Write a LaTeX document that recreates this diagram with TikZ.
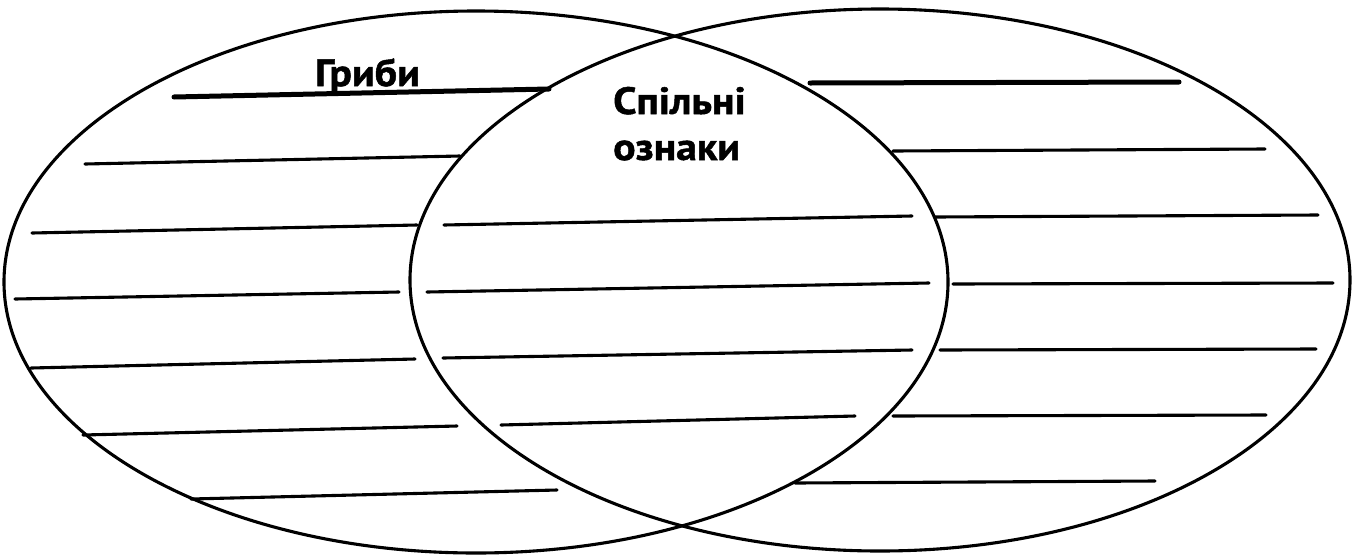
\documentclass[tikz,border=0pt]{standalone}
\usepackage{fontspec}
\setmainfont[FakeStretch=1.1,BoldFeatures={FakeBold=1.3}]{PT Sans}
\begin{document}
\begin{tikzpicture}[x=1pt,y=-1pt,
  oval/.style={draw, line width=3.1pt},
  wline/.style={line width=3.1pt, line cap=round},
  tline/.style={line width=5pt, line cap=round},
  lbl/.style={font=\bfseries\fontsize{38}{45}\selectfont, inner sep=0pt}]
\useasboundingbox (0,0) rectangle (1354,555);
% ellipses
\draw[oval] (476,282) ellipse [x radius=472, y radius=271];
\draw[oval] (880,280) ellipse [x radius=470, y radius=271];
% titles
\node[lbl, anchor=base west] (gr) at (315,86) {Гриби};
\node[lbl, anchor=base west] (sp1) at (613,114) {Спільні};
\node[lbl, anchor=base west] (sp2) at (613,160) {ознаки};
% left lines
\draw[tline] (174,97) -- (549,89);
\draw[wline] (85,164) -- (460,156);
\draw[wline] (32,233) -- (417,225);
\draw[wline] (15,299) -- (399,292);
\draw[wline] (31,368) -- (415,359);
\draw[wline] (83,435) -- (457,426);
\draw[wline] (191,499) -- (557,490);
% middle lines
\draw[wline] (444,225) -- (912,216);
\draw[wline] (427,292) -- (929,283);
\draw[wline] (443,358) -- (912,350);
\draw[wline] (501,425) -- (855,416);
% right lines
\draw[tline] (810,83) -- (1179,82);
\draw[wline] (893,151) -- (1265,149);
\draw[wline] (935,217) -- (1318,215);
\draw[wline] (953,284) -- (1333,283);
\draw[wline] (940,350) -- (1316,349);
\draw[wline] (893,416) -- (1266,415);
\draw[wline] (795,483) -- (1155,481);
\end{tikzpicture}
\end{document}
